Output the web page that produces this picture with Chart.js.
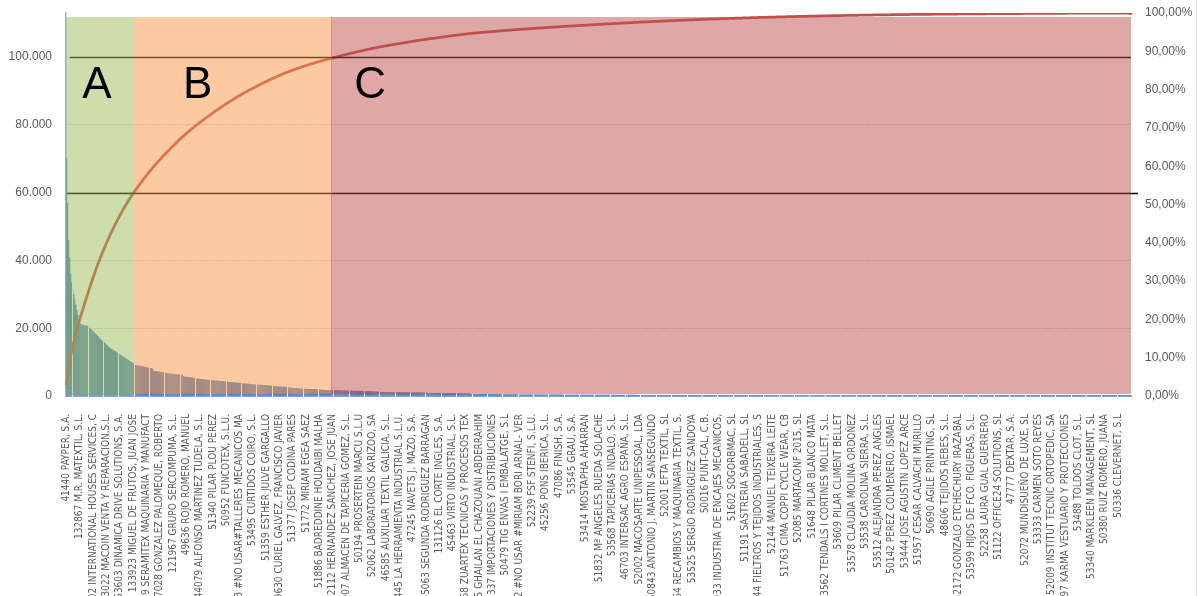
<!DOCTYPE html>
<html>
<head>
<meta charset="utf-8">
<script src="https://cdn.jsdelivr.net/npm/chart.js@4.4.1/dist/chart.umd.min.js"></script>
<style>
  html, body { margin: 0; padding: 0; background: #fff; }
  #wrap { position: relative; width: 1201px; height: 596px; overflow: hidden; }
  #sheetLine { position: absolute; left: 1196px; top: 0; width: 1px; height: 596px; background: #e4e4e4; }
</style>
</head>
<body>
<div id="wrap">
  <canvas id="pareto" width="1201" height="596"></canvas>
  <div id="sheetLine"></div>
</div>
<script>
// customers shown on the axis (one every LABEL_EVERY customers)
const customerLabels = [
  '41440 PAYPER, S.A.', '132867 M.R. MATEXTIL, S.L.', '50002 INTERNATIONAL HOUSES SERVICES, C',
  '133022 MACOIN VENTA Y REPARACION,S.L.', '53603 DINAMICA DRIVE SOLUTIONS, S.A.',
  '133923 MIGUEL DE FRUTOS, JUAN JOSE', '47989 SERAMITEX MAQUINARIA Y MANUFACT',
  '47028 GONZALEZ PALOMEQUE, ROBERTO', '121967 GRUPO SERCOMPUMA, S.L.', '49636 ROJO ROMERO, MANUEL',
  '44079 ALFONSO MARTINEZ TUDELA, S.L.', '51340 PILAR PLOU PEREZ', '50952 FUNCOTEX, S.L.U.',
  '46383 #NO USAR#TALLERES MECANICOS MA', '53495 CURTIDOS COIRO, S.L.', '51359 ESTHER JULVE GARGALLO',
  '49630 CURIEL GALVEZ, FRANCISCO JAVIER', '51377 JOSEP CODINA PARES', '51772 MIRIAM EGEA SAEZ',
  '51886 BADREDDINE HOUDAIBI MALHA', '112112 HERNANDEZ SANCHEZ, JOSE JUAN',
  '122007 ALMACEN DE TAPICERIA GOMEZ, S.L.', '50194 PROSERTEIN MARCU S.L.U',
  '52062 LABORATORIOS KARIZOO, SA', '46585 AUXILIAR TEXTIL GALICIA, S.L.',
  '50445 LA HERRAMIENTA INDUSTRIAL S.L.U.', '47245 NAVETS J. MAZO, S.A.',
  '55063 SEGUNDA RODRIGUEZ BARRAGAN', '131126 EL CORTE INGLES, S.A.', '45463 VIRTO INDUSTRIAL, S.L.',
  '51168 ZUARTEX TECNICAS Y PROCESOS TEX', '51235 GHAILAN EL CHAZOUANI ABDERRAHIM',
  '133337 IMPORTACIONES Y DISTRIBUCIONES', '50479 TIG ENVAS I EMBALATGE, S.L',
  '50302 #NO USAR #MIRIAM BORI ARNAL- VER', '52239 FSF STENFI, S.L.U.', '45256 PONS IBERICA, S.L.',
  '47086 FINISH, S.A.', '53545 GRAU, S.A.', '53414 MOSTAPHA AHARRAN', '51832 Mª ANGELES RUEDA SOLACHE',
  '53568 TAPICERIAS INDALO, S.L.', '46703 INTERSAC AGRO ESPAÑA, S.L.', '52002 MACOSARTE UNIPESSOAL, LDA',
  '50843 ANTONIO J. MARTIN SANSEGUNDO', '52001 EFTA TEXTIL, SL', '44964 RECAMBIOS Y MAQUINARIA TEXTIL, S.',
  '53525 SERGIO RODRIGUEZ SANDOYA', '50016 PUNT-CAL, C.B.', '52033 INDUSTRIA DE ENCAJES MECANICOS,',
  '51602 SOGORBMAC, SL', '51191 SASTRERIA SABADELL, SL', '51544 FIELTROS Y TEJIDOS INDUSTRIALES, S',
  '52144 MANUEL TEIXEIRA LEITE', '51763 CIMA COPPI CYCLE WEAR, CB', '52085 MARTACONF 2015, SL',
  '51648 PILAR BLANCO MATA', '53562 TENDALS I CORTINES MOLLET, S.L.', '53609 PILAR CLIMENT BELLET',
  '53578 CLAUDIA MOLINA ORDOÑEZ', '53538 CAROLINA SIERRA, S.L.', '53512 ALEJANDRA PEREZ ANGLES',
  '50142 PEREZ COLMENERO, ISMAEL', '53444 JOSE AGUSTIN LOPEZ ARCE', '51957 CESAR CALVACHI MURILLO',
  '50690 AGILE PRINTING, SL', '48606 TEJIDOS REBES, S.L.', '52172 GONZALO ETCHECHURY IRAZABAL',
  '53599 HIJOS DE FCO. FIGUERAS, S.L.', '52258 LAURA GUAL GUERRERO', '51122 OFFICE24 SOLUTIONS, SL',
  '47777 DEXTAR, S.A.', '52072 MUNDISUEÑO DE LUXE, SL', '53333 CARMEN SOTO REYES',
  '52009 INSTITUT TECNIC ORTOPEDIC, SA', '50997 KARMA VESTUARIO Y PROTECCIONES',
  '53488 TOLDOS CLOT, S.L.', '53340 MARKLEEN MANAGEMENT, SL', '50380 RUIZ ROMERO, JUANA',
  '50336 CLEVERNET, S.L'
];

// sales per customer, sorted, split by ABC class
const valuesA = [
  70000, 57000, 46000, 41000, 36000, 33500, 31500, 30000, 28500, 27000, 25500, 24000, 22500, 21600,
  21200, 21100, 21000, 20900, 20900, 20800, 20700, 20500, 20300,
  20000, 19700, 19400, 19100, 18800, 18500,
  18200, 17900, 17600, 17200, 16900, 16600, 16300, 16000,
  15800, 15500, 15200, 14900, 14600, 14300, 14100,
  13900, 13700, 13500, 13300, 13100, 12900, 12700, 12500, 12300,
  12100, 11900, 11700, 11500, 11300, 11100, 10900, 10700, 10500, 10300, 10100, 9900, 9700
];
const valuesB = [
  9200, 9150, 9100, 9050, 9000, 8950, 8900, 8850, 8800, 8700,
  8600, 8550, 8500, 8400, 8350, 8300, 8250, 8200, 8100,
  7450, 7400, 7350, 7300, 7250, 7200, 7150, 7100, 7050, 7000, 6950, 6900, 6850, 6800,
  6700, 6650, 6650, 6600, 6550, 6550, 6500, 6450, 6450, 6400, 6400, 6350, 6350, 6300, 6250,
  5800, 5750, 5700, 5700, 5650, 5600, 5550, 5500, 5500, 5450, 5400, 5350, 5300,
  5150, 5120, 5090, 5050, 5020, 4990, 4950, 4920, 4890, 4850, 4820, 4790, 4750, 4730,
  4700, 4680, 4650, 4630, 4600, 4570, 4550, 4520, 4490, 4460, 4430, 4410, 4390, 4370, 4350,
  4250, 4220, 4190, 4160, 4130, 4100, 4070, 4040, 4010, 3980, 3950, 3930, 3910, 3880, 3850,
  3760, 3730, 3710, 3680, 3660, 3630, 3610, 3580, 3560, 3530, 3500, 3470, 3440, 3420, 3390, 3360,
  3350, 3330, 3310, 3290, 3270, 3250, 3230, 3210, 3190, 3170, 3150, 3130, 3110, 3090, 3070,
  2950, 2930, 2910, 2890, 2870, 2850, 2830, 2810, 2790, 2770, 2750, 2730, 2710, 2700,
  2550, 2520, 2490, 2460, 2430, 2400, 2380, 2350, 2320, 2290, 2260, 2230, 2200, 2180, 2150,
  2120, 2115, 2110, 2105, 2100, 2095, 2090, 2085, 2080, 2075, 2070, 2065, 2060, 2050,
  1950, 1930, 1910, 1890, 1870, 1850, 1830, 1810, 1790, 1770, 1760, 1750, 1730, 1720, 1700
];
const valuesC = [
  1700, 1695, 1690, 1685, 1680, 1675, 1670, 1665, 1660, 1655, 1650, 1645, 1640, 1635, 1630,
  1620, 1610, 1600, 1590, 1580, 1570, 1560, 1550, 1540, 1530, 1520, 1510, 1500, 1490, 1480,
  1470, 1460, 1450, 1440, 1430, 1420, 1410, 1400, 1390, 1380, 1370, 1360, 1350, 1340, 1330,
  1210, 1205, 1200, 1195, 1190, 1185, 1180, 1175, 1170, 1160, 1155, 1150, 1145, 1140, 1130,
  1120, 1115, 1110, 1105, 1100, 1100, 1095, 1090, 1090, 1085, 1080, 1080, 1075, 1070, 1070,
  1060, 1055, 1050, 1050, 1045, 1040, 1035, 1035, 1030, 1025, 1025, 1020, 1015, 1015, 1010,
  930, 927, 924, 921, 918, 915, 912, 909, 906, 903, 900, 897, 894, 892, 890,
  885, 882, 880, 877, 874, 871, 868, 865, 862, 860, 858, 856, 854, 852, 850,
  840, 838, 836, 834, 832, 830, 828, 826, 824, 822, 820, 818, 816, 813, 810,
  600, 598, 596, 594, 592, 590, 588, 586, 584, 582, 580, 578, 576, 573, 570,
  560, 558, 556, 554, 552, 550, 548, 546, 544, 542, 540, 538, 536, 533, 530,
  520, 518, 516, 514, 512, 510, 508, 506, 504, 502, 500, 498, 496, 493, 490,
  480, 478, 476, 475, 473, 471, 470, 468, 466, 465, 463, 461, 460, 458, 456, 455, 453, 451, 450, 448,
  446, 445, 443, 441, 440, 438, 436, 435, 433, 431, 430, 428, 426, 425, 423, 421, 420, 418, 416, 415,
  413, 411, 410, 408, 406, 405, 403, 401, 400, 399, 398, 397, 396, 395, 394, 393, 392, 391, 390, 389,
  388, 388, 387, 386, 385, 385, 384, 383, 382, 382, 381, 381, 380, 380, 379, 379, 378, 378, 377, 376,
  375, 374, 373, 372, 370, 369, 368, 367, 366, 365, 363, 362, 361, 360, 359, 358, 356, 355, 354, 353,
  352, 350, 349, 348, 347, 346, 345, 343, 342, 341, 340, 339, 338, 336, 335, 334, 333, 332, 330, 329,
  328, 327, 326, 325, 323, 322, 321, 320, 319, 317, 316, 315, 314, 313, 312, 310, 309, 308, 307, 306,
  305, 303, 302, 301, 300, 299, 297, 296, 295, 294, 293, 292, 290, 289, 288, 287, 286, 285, 283, 282,
  281, 280, 279, 277, 276, 275, 274, 273, 272, 270, 269, 268, 267, 266, 265, 264, 263, 262, 261, 260,
  255, 254, 253, 252, 251, 250, 248, 247, 246, 245, 244, 243, 242, 241, 240, 239, 238, 237, 236, 235,
  233, 232, 231, 230, 229, 228, 227, 226, 225, 224, 223, 222, 221, 220, 218, 217, 216, 215, 214, 213,
  212, 211, 210, 209, 208, 207, 206, 205, 204, 203, 201, 200, 199, 198, 197, 196, 195, 194, 193, 192,
  191, 190, 189, 188, 186, 185, 184, 183, 182, 181, 180, 179, 178, 177, 176, 175, 174, 173, 172, 171,
  169, 168, 167, 166, 165, 164, 163, 162, 161, 160, 159, 158, 157, 156, 155, 154, 153, 152, 151, 150,
  148, 147, 147, 146, 145, 145, 144, 143, 143, 142, 141, 141, 140, 139, 139, 138, 137, 137, 136, 135,
  135, 134, 133, 133, 132, 131, 131, 130, 129, 129, 128, 127, 127, 126, 125, 125, 124, 123, 123, 122,
  121, 121, 120, 119, 119, 118, 117, 117, 116, 115, 115, 114, 113, 113, 112, 111, 111, 110, 109, 109,
  108, 107, 107, 106, 105, 105, 104, 103, 103, 102, 101, 101, 100, 99, 99, 98, 97, 97, 96, 95,
  95, 94, 93, 92, 91, 91, 90, 89, 88, 88, 87, 86, 85, 85, 84, 83, 82, 82, 81, 80,
  78, 78, 77, 77, 77, 76, 76, 76, 75, 75, 75, 74, 74, 74, 73, 73, 73, 72, 72, 72,
  71, 71, 71, 70, 70, 70, 69, 69, 69, 68, 68, 68, 67, 67, 67, 66, 66, 66, 65, 65,
  65, 64, 64, 64, 63, 63, 63, 62, 62, 62, 61, 61, 61, 60, 60, 60, 59, 59, 59, 58,
  58, 58, 57, 57, 57, 56, 56, 56, 55, 55, 55, 54, 54, 54, 53, 53, 53, 52, 52, 52,
  51, 51, 51, 50, 50, 50, 49, 49, 49, 48, 48, 48, 47, 47, 47, 46, 46, 46, 45, 45,
  44, 44, 44, 43, 43, 43, 43, 43, 42, 42, 42, 42, 42, 41, 41, 41, 41, 41, 40, 40,
  40, 40, 40, 39, 39, 39, 39, 39, 38, 38, 38, 38, 38, 37, 37, 37, 37, 37, 36, 36,
  36, 36, 36, 35, 35, 35, 35, 35, 34, 34, 34, 34, 34, 33, 33, 33, 33, 33, 32, 32,
  32, 32, 32, 31, 31, 31, 31, 31, 30, 30, 30, 30, 30, 29, 29, 29, 29, 29, 28, 28,
  28, 28, 27, 27, 27, 26, 26, 26, 25, 25, 25, 25, 24, 24, 24, 24, 23, 23, 23, 23,
  22, 22, 22, 22, 21, 21, 21, 21, 21, 20, 20, 20, 20, 20, 20, 20, 20, 20, 20, 20
];

const zoneNames = ['A', 'B', 'C'];
const refLines = [60000, 100000];
const leftTicks = [0, 20000, 40000, 60000, 80000, 100000];
const rightTicks = [0, 0.1, 0.2, 0.3, 0.4, 0.5, 0.6, 0.7, 0.8, 0.9, 1];

// layout / style
const LABEL_EVERY = 13;
const TICK_EVERY = 15;
const TICK_FIRST = 6;
const Y_MAX = 113000;
const ZONE_TOP = 111900;
const ZONE_FLOOR = [0, 700, 700];
const ZONE_COLORS = ['rgba(155,187,89,0.5)', 'rgba(247,150,70,0.5)', 'rgba(192,80,77,0.5)'];
const LETTER_OFFSET = [31, 64, 38];
const REF_START = [1, 4];
const REF_END = [7, 0];
const GRAY = '#595959';
const AXIS_FONT = { family: '"Liberation Sans", Arial, sans-serif', size: 12 };
const NAME_FONT = { family: '"Liberation Sans Narrow", "DejaVu Sans Condensed", "Liberation Sans", sans-serif', size: 10 };

const values = valuesA.concat(valuesB, valuesC);
const total = values.reduce((s, v) => s + v, 0);
let running = 0;
const cumulative = values.map(v => (running += v) / total);
const categories = values.map((v, i) =>
  i % LABEL_EVERY === 0 ? (customerLabels[i / LABEL_EVERY] || '') : '');
const zoneBounds = [0, valuesA.length, valuesA.length + valuesB.length, values.length];

const thousands = v => String(v).replace(/\B(?=(\d{3})+(?!\d))/g, '.');

// keep the value axes from pushing the plot area down for their end labels
const fitSide = width => s => {
  s.width = width;
  s.paddingTop = 0;
  s.paddingBottom = 0;
};

const abcPlugin = {
  id: 'abcZones',
  afterDatasetDraw(chart, args) {
    if (args.index !== 0) return;
    // white separators through the bars at the axis tick marks
    const { ctx, chartArea: a } = chart;
    const xs = chart.scales.x;
    const w = xs.width / values.length;
    ctx.save();
    ctx.strokeStyle = '#ffffff';
    ctx.lineWidth = 1;
    ctx.beginPath();
    for (let k = TICK_FIRST; k < values.length; k += TICK_EVERY) {
      const x = Math.round(xs.left + k * w) + 0.5;
      ctx.moveTo(x, a.top);
      ctx.lineTo(x, a.bottom + 1);
    }
    ctx.stroke();
    ctx.restore();
  },
  afterDatasetsDraw(chart) {
    const { ctx, chartArea: a } = chart;
    const xs = chart.scales.x, ys = chart.scales.y;
    const w = xs.width / values.length;
    ctx.save();
    ctx.strokeStyle = '#000';
    ctx.lineWidth = 1.3;
    refLines.forEach((v, i) => {
      const y = Math.round(ys.getPixelForValue(v)) + 0.5;
      ctx.beginPath();
      ctx.moveTo(a.left + REF_START[i], y);
      ctx.lineTo(a.right + REF_END[i], y);
      ctx.stroke();
    });
    zoneNames.forEach((name, i) => {
      let x0 = Math.round(xs.left + zoneBounds[i] * w);
      const x1 = Math.round(xs.left + zoneBounds[i + 1] * w);
      if (i === 2) x0 -= 1;
      const yTop = Math.round(ys.getPixelForValue(ZONE_TOP));
      const yBot = Math.round(ys.getPixelForValue(ZONE_FLOOR[i]));
      ctx.fillStyle = ZONE_COLORS[i];
      ctx.fillRect(x0, yTop, x1 - x0, yBot - yTop);
    });
    ctx.fillStyle = '#000';
    ctx.font = '44px "Liberation Sans", Arial, sans-serif';
    ctx.textAlign = 'center';
    ctx.textBaseline = 'middle';
    zoneNames.forEach((name, i) => {
      const x0 = xs.left + zoneBounds[i] * w;
      ctx.fillText(name, x0 + LETTER_OFFSET[i], a.top + 73);
    });
    ctx.restore();
  }
};

new Chart(document.getElementById('pareto'), {
  data: {
    labels: categories,
    datasets: [
      {
        type: 'bar',
        label: 'Ventas',
        data: values,
        yAxisID: 'y',
        backgroundColor: '#4F81BD',
        borderWidth: 0,
        barPercentage: 1.3,
        categoryPercentage: 1,
        order: 2
      },
      {
        type: 'line',
        label: '% acumulado',
        data: cumulative,
        yAxisID: 'y1',
        borderColor: '#C0504D',
        borderWidth: 2.75,
        pointRadius: c => (c.dataIndex === values.length - 1 ? 2 : 0),
        pointBackgroundColor: '#C0504D',
        pointBorderWidth: 0,
        tension: 0,
        order: 1
      }
    ]
  },
  options: {
    responsive: false,
    animation: false,
    devicePixelRatio: 1,
    layout: { padding: { top: 13, left: 0, right: 0, bottom: 0 } },
    plugins: { legend: { display: false }, tooltip: { enabled: false } },
    scales: {
      x: {
        grid: { display: false },
        border: { color: '#7ea3d6', width: 2 },
        ticks: {
          autoSkip: false, minRotation: 90, maxRotation: 90, padding: 10,
          color: GRAY, font: NAME_FONT
        },
        afterFit: s => { s.height = 200; }
      },
      y: {
        position: 'left',
        min: 0,
        max: Y_MAX,
        afterBuildTicks: s => { s.ticks = leftTicks.map(v => ({ value: v })); },
        ticks: { padding: 14, color: GRAY, font: AXIS_FONT, callback: v => thousands(v) },
        grid: { color: '#d9d9d9', drawTicks: false },
        border: { color: '#95b3d7', width: 1.5 },
        afterFit: fitSide(66)
      },
      y1: {
        position: 'right',
        min: 0,
        max: 1,
        afterBuildTicks: s => { s.ticks = rightTicks.map(v => ({ value: v })); },
        ticks: {
          padding: 14, color: GRAY, font: AXIS_FONT,
          callback: v => (v * 100).toFixed(2).replace('.', ',') + '%'
        },
        grid: { display: false, drawTicks: false },
        border: { display: false },
        afterFit: fitSide(70)
      }
    }
  },
  plugins: [abcPlugin]
});
</script>
</body>
</html>
